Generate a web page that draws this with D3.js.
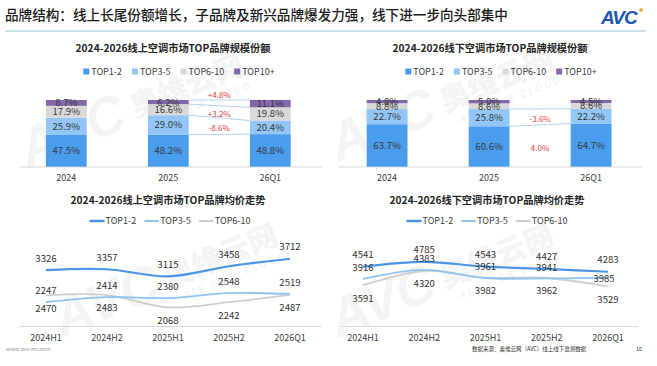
<!DOCTYPE html>
<html><head><meta charset="utf-8">
<script src="https://cdn.jsdelivr.net/npm/d3@7"></script>
<style>
body{margin:0;background:#fff;}
svg{display:block;font-family:"Noto Sans CJK SC","Noto Sans",sans-serif;}
</style>
</head><body>
<svg id="c" width="657" height="366"></svg>
<script>
// ---------- DATA ----------
const pageTitle = "品牌结构：线上长尾份额增长，子品牌及新兴品牌爆发力强，线下进一步向头部集中";
const shareCats = ["2024", "2025", "26Q1"];
const shareSeries = ["TOP1-2", "TOP3-5", "TOP6-10", "TOP10+"];
const onlineTop12  = [47.5, 48.2, 48.8];
const onlineTop35  = [25.9, 29.0, 20.4];
const onlineTop610 = [17.9, 16.6, 19.8];
const onlineTop10p = [8.7, 6.2, 11.1];
const offlineTop12  = [63.7, 60.6, 64.7];
const offlineTop35  = [22.7, 25.8, 22.2];
const offlineTop610 = [8.8, 8.6, 8.6];
const offlineTop10p = [4.8, 5.0, 4.5];
const onlineChangeSeries = [3, 2, 1];
const onlineChangeText = ["+4.8%", "+3.2%", "-8.6%"];
const offlineChangeSeries = [1, 0];
const offlineChangeText = ["-3.6%", "4.0%"];
const onlineConnectors = [0, 1, 2, 3];
const offlineConnectors = [0, 1];

const periods = ["2024H1", "2024H2", "2025H1", "2025H2", "2026Q1"];
const priceSeries = ["TOP1-2", "TOP3-5", "TOP6-10"];
const onlinePrice12  = [3326, 3357, 3115, 3458, 3712];
const onlinePrice35  = [2247, 2414, 2380, 2548, 2519];
const onlinePrice610 = [2470, 2483, 2068, 2242, 2487];
const offlinePrice12  = [4541, 4785, 4543, 4427, 4283];
const offlinePrice35  = [3916, 4383, 3961, 3941, 3985];
const offlinePrice610 = [3591, 4320, 3982, 3962, 3529];

const shareColors = ["#4a9cec", "#91c6f6", "#d9d9d9", "#8466ac"];
const lineColors = ["#4a95e8", "#8ec4f4", "#cfcfcf"];

// ---------- DRAW ----------
const svg = d3.select("#c");

function watermark(x, y) {
  const g = svg.append("g").attr("transform", `translate(${x},${y}) rotate(-22)`)
    .attr("fill", "#000").attr("opacity", 0.04);
  g.append("text").attr("x", 0).attr("y", 0).attr("font-size", 54).attr("font-weight", 900)
    .attr("font-style", "italic").attr("font-family", "Liberation Sans, sans-serif").text("AVC");
  g.append("text").attr("x", 118).attr("y", -6).attr("font-size", 30).attr("font-weight", 900).text("奥维云网");
  g.append("text").attr("x", 128).attr("y", 10).attr("font-size", 10).attr("font-weight", 700)
    .attr("letter-spacing", 2).attr("font-style", "italic").text("ALL VIEW CLOUD");
}
watermark(28, 168); watermark(338, 162); watermark(62, 338); watermark(338, 338);

svg.append("text").attr("x", 5).attr("y", 20).attr("font-size", 13.6).attr("font-weight", 500)
  .attr("fill", "#1a1a1a").text(pageTitle);
svg.append("line").attr("x1", 5).attr("x2", 646).attr("y1", 31).attr("y2", 31)
  .attr("stroke", "#9cc6e4").attr("stroke-width", 1.2);
const logo = svg.append("g");
logo.append("text").attr("x", 601).attr("y", 24).attr("font-size", 19).attr("font-weight", 900)
  .attr("font-style", "italic").attr("font-family", "Liberation Sans, sans-serif")
  .attr("fill", "#1c56b4").attr("letter-spacing", -1).text("AVC");
logo.append("circle").attr("cx", 641).attr("cy", 10).attr("r", 1.8).attr("fill", "#f29a1f");

function legendRow(items, cx, y, kind, colors) {
  const g = svg.append("g");
  let x = 0;
  items.forEach((name, i) => {
    const it = g.append("g").attr("transform", `translate(${x},0)`);
    let off;
    if (kind === "box") {
      it.append("rect").attr("x", 0).attr("y", y - 3.5).attr("width", 6).attr("height", 6).attr("fill", colors[i]);
      off = 8;
    } else {
      it.append("line").attr("x1", 0).attr("x2", 13).attr("y1", y).attr("y2", y)
        .attr("stroke", colors[i]).attr("stroke-width", i === 0 ? 2.5 : 2).attr("stroke-linecap", "round");
      off = 15;
    }
    const t = it.append("text").attr("x", off).attr("y", y).attr("dy", "0.35em")
      .attr("font-size", 9).attr("fill", "#404040").text(name);
    x += off + t.node().getComputedTextLength() + (kind === "box" ? 10 : 9);
  });
  const w = x - 10;
  g.attr("transform", `translate(${cx - w / 2},0)`);
}

function shareChart(cfg) {
  svg.append("text").attr("x", cfg.titleX).attr("y", 48).attr("dy", "0.35em")
    .attr("text-anchor", "middle").attr("font-size", 10.2).attr("font-weight", 700)
    .attr("fill", "#262626").text(cfg.title);
  legendRow(shareSeries, cfg.legendX, 72, "box", shareColors);

  const x = d3.scaleBand().domain(shareCats).range(cfg.xRange).paddingInner(0.6).paddingOuter(0.3);
  const y = d3.scaleLinear().domain([0, 100]).range([166.7, 100]);
  const rows = shareCats.map((c, i) => {
    const r = { cat: c };
    shareSeries.forEach((s, k) => r[s] = cfg.series[k][i]);
    return r;
  });
  const stacked = d3.stack().keys(shareSeries)(rows);

  svg.append("line").attr("x1", cfg.axis[0]).attr("x2", cfg.axis[1]).attr("y1", 167).attr("y2", 167)
    .attr("stroke", "#d9d9d9").attr("stroke-width", 1);

  const a = 1, b = 2;
  cfg.connectors.forEach(k => {
    svg.append("line")
      .attr("x1", x(shareCats[a]) + x.bandwidth()).attr("x2", x(shareCats[b]))
      .attr("y1", y(stacked[k][a][1])).attr("y2", y(stacked[k][b][1]))
      .attr("stroke", "#a9cfee").attr("stroke-width", 0.9);
  });

  stacked.forEach((layer, k) => {
    svg.append("g").selectAll("rect").data(layer).join("rect")
      .attr("x", d => x(d.data.cat)).attr("width", x.bandwidth())
      .attr("y", d => y(d[1])).attr("height", d => y(d[0]) - y(d[1]))
      .attr("fill", shareColors[k]);
  });
  stacked.forEach((layer, k) => {
    svg.append("g").selectAll("text").data(layer).join("text")
      .attr("x", d => x(d.data.cat) + x.bandwidth() / 2)
      .attr("y", d => y((d[0] + d[1]) / 2)).attr("dy", "0.36em")
      .attr("text-anchor", "middle").attr("font-size", 9.6).attr("fill", "#3a3a3a")
      .text(d => d.data[shareSeries[k]].toFixed(1) + "%");
  });
  const midX = (x(shareCats[a]) + x.bandwidth() + x(shareCats[b])) / 2;
  cfg.changeSeries.forEach((k, i) => {
    const m = ((stacked[k][a][0] + stacked[k][a][1]) / 2 + (stacked[k][b][0] + stacked[k][b][1]) / 2) / 2;
    const top = k === shareSeries.length - 1;
    svg.append("text").attr("x", midX).attr("y", y(m) + (top ? -8 : 2)).attr("dy", "0.35em")
      .attr("text-anchor", "middle").attr("font-size", 8).attr("fill", "#e8383d").text(cfg.changeText[i]);
  });
  svg.append("g").selectAll("text").data(shareCats).join("text")
    .attr("x", d => x(d) + x.bandwidth() / 2).attr("y", 178).attr("dy", "0.35em")
    .attr("text-anchor", "middle").attr("font-size", 9).attr("fill", "#404040").text(d => d);
}

shareChart({
  title: "2024-2026线上空调市场TOP品牌规模份额", titleX: 173, legendX: 179,
  xRange: [15.3, 321.3], axis: [20, 322],
  series: [onlineTop12, onlineTop35, onlineTop610, onlineTop10p],
  connectors: onlineConnectors, changeSeries: onlineChangeSeries, changeText: onlineChangeText
});
shareChart({
  title: "2024-2026线下空调市场TOP品牌规模份额", titleX: 490, legendX: 501,
  xRange: [336.1, 642.1], axis: [338, 642],
  series: [offlineTop12, offlineTop35, offlineTop610, offlineTop10p],
  connectors: offlineConnectors, changeSeries: offlineChangeSeries, changeText: offlineChangeText
});

function priceChart(cfg) {
  svg.append("text").attr("x", cfg.titleX).attr("y", 200).attr("dy", "0.35em")
    .attr("text-anchor", "middle").attr("font-size", 10.2).attr("font-weight", 700)
    .attr("fill", "#262626").text(cfg.title);
  legendRow(priceSeries, cfg.legendX, 221, "line", lineColors);
  const x = d3.scalePoint().domain(periods).range(cfg.xRange);
  const y = d3.scaleLinear().domain(cfg.yDomain).range(cfg.yRange);
  svg.append("line").attr("x1", cfg.axis[0]).attr("x2", cfg.axis[1]).attr("y1", 326.5).attr("y2", 326.5)
    .attr("stroke", "#d9d9d9").attr("stroke-width", 1);
  const line = d3.line().x((d, i) => x(periods[i])).y(d => y(d)).curve(d3.curveCatmullRom.alpha(0.5));
  [2, 1, 0].forEach(k => {
    svg.append("path").attr("d", line(cfg.series[k])).attr("fill", "none")
      .attr("stroke", lineColors[k]).attr("stroke-width", k === 0 ? 2.2 : 1.8);
  });
  const dys = [-12, -11, 13];
  const placed = [];
  cfg.series.forEach((s, k) => {
    s.forEach((d, i) => {
      const px = x(periods[i]);
      let py = y(d) + dys[k];
      let tx = px;
      const hit = placed.some(p => Math.abs(p.x - px) < 20 && Math.abs(p.y - py) < 7);
      if (hit) { py = y(d) + 1; tx = px - 4; }
      placed.push({ x: tx, y: py });
      svg.append("text").attr("x", tx).attr("y", py).attr("dy", "0.35em")
        .attr("text-anchor", "middle").attr("font-size", 9.6).attr("fill", "#333").text(d);
    });
  });
  svg.append("g").selectAll("text").data(periods).join("text")
    .attr("x", d => x(d)).attr("y", 338).attr("dy", "0.35em")
    .attr("text-anchor", "middle").attr("font-size", 9).attr("fill", "#404040").text(d => d);
}

priceChart({
  title: "2024-2026线上空调市场TOP品牌均价走势", titleX: 168, legendX: 170,
  xRange: [46, 290], axis: [20, 322], yDomain: [1400, 4500], yRange: [327, 235.5],
  series: [onlinePrice12, onlinePrice35, onlinePrice610]
});
priceChart({
  title: "2024-2026线下空调市场TOP品牌均价走势", titleX: 487, legendX: 487,
  xRange: [363, 608], axis: [340, 638], yDomain: [1500, 6500], yRange: [326, 228.5],
  series: [offlinePrice12, offlinePrice35, offlinePrice610]
});

svg.append("text").attr("x", 6).attr("y", 349).attr("dy", "0.35em").attr("font-size", 5.5)
  .attr("fill", "#999").text("www.avc-mr.com");
svg.append("text").attr("x", 472).attr("y", 349).attr("dy", "0.35em").attr("font-size", 5.5)
  .attr("fill", "#333").text("数据来源：奥维云网（AVC）线上线下监测数据");
svg.append("text").attr("x", 636).attr("y", 349).attr("dy", "0.35em").attr("font-size", 5.5)
  .attr("fill", "#333").text("16");
</script>
</body></html>
